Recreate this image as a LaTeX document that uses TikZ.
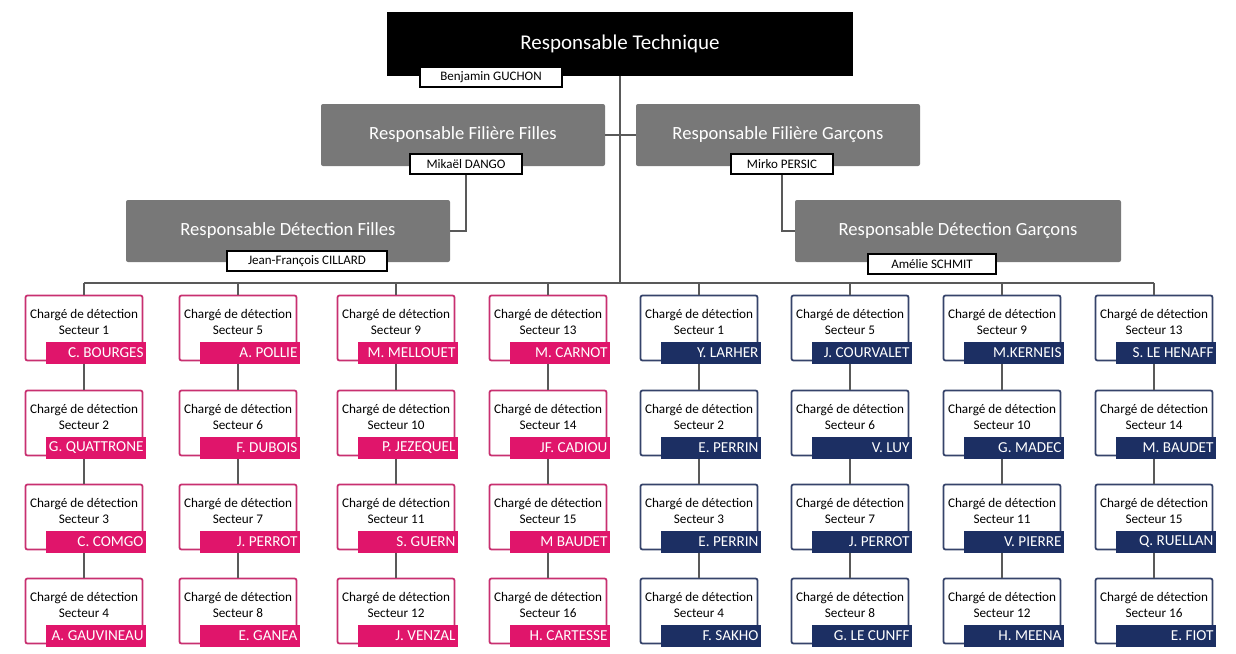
\documentclass[tikz,border=0pt]{standalone}
\usepackage{fontspec}
\setmainfont{Carlito}
\usetikzlibrary{positioning}

\definecolor{rose}{HTML}{E0156B}
\definecolor{marine}{HTML}{1C2F63}
\definecolor{gristitre}{HTML}{787878}

\begin{document}
\begin{tikzpicture}[x=0.5pt,y=-0.5pt,
    titre/.style={fill=gristitre,text=white,minimum width=#1,minimum height=31pt,rounded corners=1pt,font=\fontsize{9.3}{11}\selectfont},
    nom/.style={draw=black,fill=white,line width=0.7pt,inner sep=1pt,minimum height=10pt,font=\fontsize{6.5}{7.5}\selectfont},
    charge/.style={draw=#1!75!gray,line width=0.9pt,fill=white,minimum width=58.5pt,minimum height=32.5pt,rounded corners=1pt},
    texte/.style={align=center,inner sep=0pt,font=\fontsize{6.6}{7.6}\selectfont},
    bandeau/.style={fill=#1,text=white,minimum height=11pt,inner sep=1pt,font=\fontsize{7.6}{8.5}\selectfont},
    lien/.style={draw=gray!70!black,line width=0.6pt}]
  \useasboundingbox (0,0) rectangle (1236,653);

  \node[fill=black,text=white,minimum width=233pt,minimum height=32pt,font=\fontsize{10.5}{12}\selectfont] (respt) at (620,44) {Responsable Technique};
  \node[nom,minimum width=71pt] (nrespt) at (491,77) {Benjamin GUCHON};

  \node[titre=142pt] (filles) at (463,135) {Responsable Filière Filles};
  \node[nom,minimum width=56pt] (nfilles) at (466,164) {Mikaël DANGO};
  \node[titre=142pt] (garcons) at (778,135) {Responsable Filière Garçons};
  \node[nom,minimum width=51pt] (ngarcons) at (782,164) {Mirko PERSIC};

  \node[titre=162pt] (detf) at (288,231) {Responsable Détection Filles};
  \node[nom,minimum width=80pt] (ndetf) at (307,261) {Jean-François CILLARD};
  \node[titre=163pt] (detg) at (958,231) {Responsable Détection Garçons};
  \node[nom,minimum width=64pt] (ndetg) at (932,264) {Amélie SCHMIT};

  \coordinate (bus) at (620,283);
  \draw[lien] (respt.south) -- (bus);
  \draw[lien] (filles.east) -- (garcons.west);
  \draw[lien] (nfilles.south) |- (detf.east);
  \draw[lien] (ngarcons.south) |- (detg.west);

  % chargés de détection
  \foreach \cx/\col/\a/\b/\c/\d [count=\i] in {
      84/rose/C. BOURGES/G. QUATTRONE/C. COMGO/A. GAUVINEAU,
      238/rose/A. POLLIE/F. DUBOIS/J. PERROT/E. GANEA,
      396/rose/M. MELLOUET/P. JEZEQUEL/S. GUERN/J. VENZAL,
      548/rose/M. CARNOT/JF. CADIOU/M BAUDET/H. CARTESSE,
      699/marine/Y. LARHER/E. PERRIN/E. PERRIN/F. SAKHO,
      850/marine/J. COURVALET/V. LUY/J. PERROT/G. LE CUNFF,
      1002/marine/M.KERNEIS/G. MADEC/V. PIERRE/H. MEENA,
      1154/marine/S. LE HENAFF/M. BAUDET/Q. RUELLAN/E. FIOT}{
    \foreach \nm/\cy [count=\r] in {\a/328,\b/423,\c/517,\d/611}{
      \pgfmathtruncatemacro{\sect}{mod(\i-1,4)*4+\r}
      \node[charge=\col] (c\i-\r) at (\cx,\cy) {};
      \node[texte] (t\i-\r) at (\cx,\cy-6) {Chargé de détection\\Secteur \sect};
      \node[bandeau=\col] (b\i-\r) at (\cx+11.5,\cy+24.5) {\makebox[48pt][r]{\nm}};
    }
    \draw[lien] (c\i-1.north |- bus) -- (c\i-1.north);
    \foreach \r/\s in {1/2,2/3,3/4}
      \draw[lien] (b\i-\r.south -| c\i-\r.center) -- (c\i-\s.north);
  }
  \draw[lien] (c1-1.north |- bus) -- (c8-1.north |- bus);
\end{tikzpicture}
\end{document}
